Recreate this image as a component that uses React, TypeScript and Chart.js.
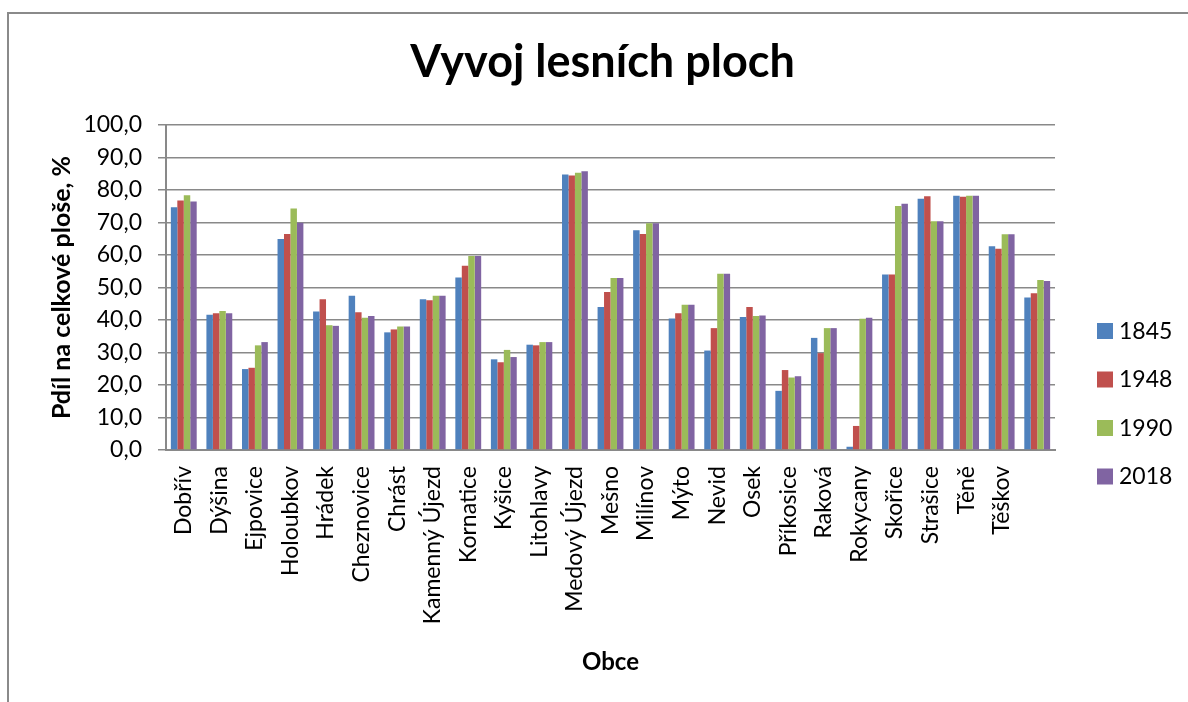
import React, { useEffect, useRef } from 'react';
import { Chart, registerables } from 'chart.js';

Chart.register(...registerables);

const categories = [
  'Dobřív', 'Dýšina', 'Ejpovice', 'Holoubkov', 'Hrádek', 'Cheznovice', 'Chrást',
  'Kamenný Újezd', 'Kornatice', 'Kyšice', 'Litohlavy', 'Medový Újezd', 'Mešno',
  'Milínov', 'Mýto', 'Nevid', 'Osek', 'Příkosice', 'Raková', 'Rokycany', 'Skořice',
  'Strašice', 'Těně', 'Těškov', ''
];

const values1845 = [74.7, 41.6, 24.9, 64.9, 42.6, 47.5, 36.2, 46.4, 53.1, 27.9, 32.4, 84.8, 44.0, 67.6, 40.5, 30.6, 40.9, 18.2, 34.5, 1.0, 54.0, 77.3, 78.2, 62.7, 46.9];
const values1948 = [76.8, 42.1, 25.3, 66.5, 46.4, 42.4, 37.1, 46.1, 56.7, 27.0, 32.2, 84.5, 48.6, 66.5, 42.1, 37.5, 44.0, 24.6, 29.8, 7.4, 54.0, 78.1, 77.9, 61.9, 48.2];
const values1990 = [78.4, 42.8, 32.2, 74.3, 38.4, 40.7, 38.0, 47.5, 59.7, 30.8, 33.2, 85.3, 52.9, 69.8, 44.7, 54.2, 41.2, 22.3, 37.5, 40.4, 75.1, 70.4, 78.2, 66.4, 52.3];
const values2018 = [76.5, 42.1, 33.2, 69.9, 38.2, 41.2, 38.0, 47.5, 59.7, 28.6, 33.2, 85.8, 52.9, 69.8, 44.7, 54.2, 41.4, 22.7, 37.5, 40.7, 75.8, 70.4, 78.2, 66.4, 52.0];

const seriesLabels = ['1845', '1948', '1990', '2018'];
const seriesValues = [values1845, values1948, values1990, values2018];
const seriesColors = ['#4F81BD', '#C0504D', '#9BBB59', '#8064A2'];

const yMin = 0;
const yMax = 100;
const yStep = 10;

const titleText = 'Vyvoj lesních ploch';
const yTitleText = 'Pdíl na celkové ploše, %';
const xTitleText = 'Obce';

const FONT = 'Lato, Carlito, "DejaVu Sans", sans-serif';
const GRID = '#898989';

export default function App() {
  const ref = useRef<HTMLCanvasElement>(null);

  useEffect(() => {
    const canvas = ref.current;
    if (!canvas) return;

    const framePlugin = {
      id: 'frame',
      beforeDraw(chart: any) {
        const { ctx, width, height } = chart;
        ctx.save();
        ctx.fillStyle = '#ffffff';
        ctx.fillRect(0, 0, width, height);
        ctx.strokeStyle = '#8a8a8a';
        ctx.lineWidth = 2;
        ctx.beginPath();
        ctx.moveTo(8, height);
        ctx.lineTo(8, 13);
        ctx.lineTo(width, 13);
        ctx.stroke();
        ctx.restore();
      },
    };

    const titleShiftPlugin = {
      id: 'titleShift',
      afterLayout(chart: any) {
        const t = chart.titleBlock;
        if (t) {
          t.left = 17;
          t.right = chart.width;
        }
      },
    };

    const sideLegendPlugin = {
      id: 'sideLegend',
      afterDraw(chart: any) {
        const { ctx } = chart;
        ctx.save();
        chart.data.datasets.forEach((ds: any, i: number) => {
          const top = 323 + i * 48.5;
          ctx.fillStyle = ds.backgroundColor;
          ctx.fillRect(1097, top, 16, 16);
          ctx.fillStyle = '#000000';
          ctx.font = `23px ${FONT}`;
          ctx.textBaseline = 'middle';
          ctx.textAlign = 'left';
          ctx.fillText(ds.label, 1119, top + 8.5);
        });
        ctx.restore();
      },
    };

    const chart = new Chart(canvas, {
      type: 'bar',
      data: {
        labels: categories,
        datasets: seriesLabels.map((label, i) => ({
          label,
          data: seriesValues[i],
          backgroundColor: seriesColors[i],
          borderWidth: 0,
          categoryPercentage: 0.727,
          barPercentage: 1,
        })),
      },
      options: {
        responsive: false,
        animation: false,
        layout: { padding: { top: 0, left: 0, right: 133, bottom: 0 } },
        plugins: {
          legend: { display: false },
          tooltip: { enabled: false },
          title: {
            display: true,
            text: titleText,
            color: '#000000',
            font: { family: FONT, size: 45, weight: 'bold', lineHeight: 1.2 },
            padding: { top: 35.6, bottom: 35.4 },
          },
        },
        scales: {
          x: {
            grid: { display: false, drawTicks: false },
            border: { display: true, color: GRID, width: 2 },
            ticks: {
              autoSkip: false,
              minRotation: 90,
              maxRotation: 90,
              padding: 16,
              color: '#000000',
              font: { family: FONT, size: 23 },
            },
            title: {
              display: true,
              text: xTitleText,
              color: '#000000',
              font: { family: FONT, size: 24, weight: 'bold', lineHeight: 1.2 },
              padding: { top: 0, bottom: 25 },
            },
            afterFit(scale: any) {
              scale.height = 252;
            },
          },
          y: {
            min: yMin,
            max: yMax,
            ticks: {
              stepSize: yStep,
              padding: 16,
              color: '#000000',
              font: { family: FONT, size: 23 },
              callback: (v: any) => Number(v).toFixed(1).replace('.', ','),
            },
            grid: { color: GRID, lineWidth: 1.5, tickLength: 8, drawTicks: true },
            border: { display: true, color: GRID, width: 2 },
            title: {
              display: true,
              text: yTitleText,
              color: '#000000',
              font: { family: FONT, size: 25, weight: 'bold', lineHeight: 1.2 },
              padding: { top: 47, bottom: 0 },
            },
            afterFit(scale: any) {
              scale.width = 166;
            },
          },
        },
      },
      plugins: [framePlugin, titleShiftPlugin, sideLegendPlugin],
    } as any);

    return () => chart.destroy();
  }, []);

  return (
    <canvas
      ref={ref}
      width={1188}
      height={702}
      style={{ position: 'fixed', left: 0, top: 0, display: 'block', width: 1188, height: 702 }}
    />
  );
}
